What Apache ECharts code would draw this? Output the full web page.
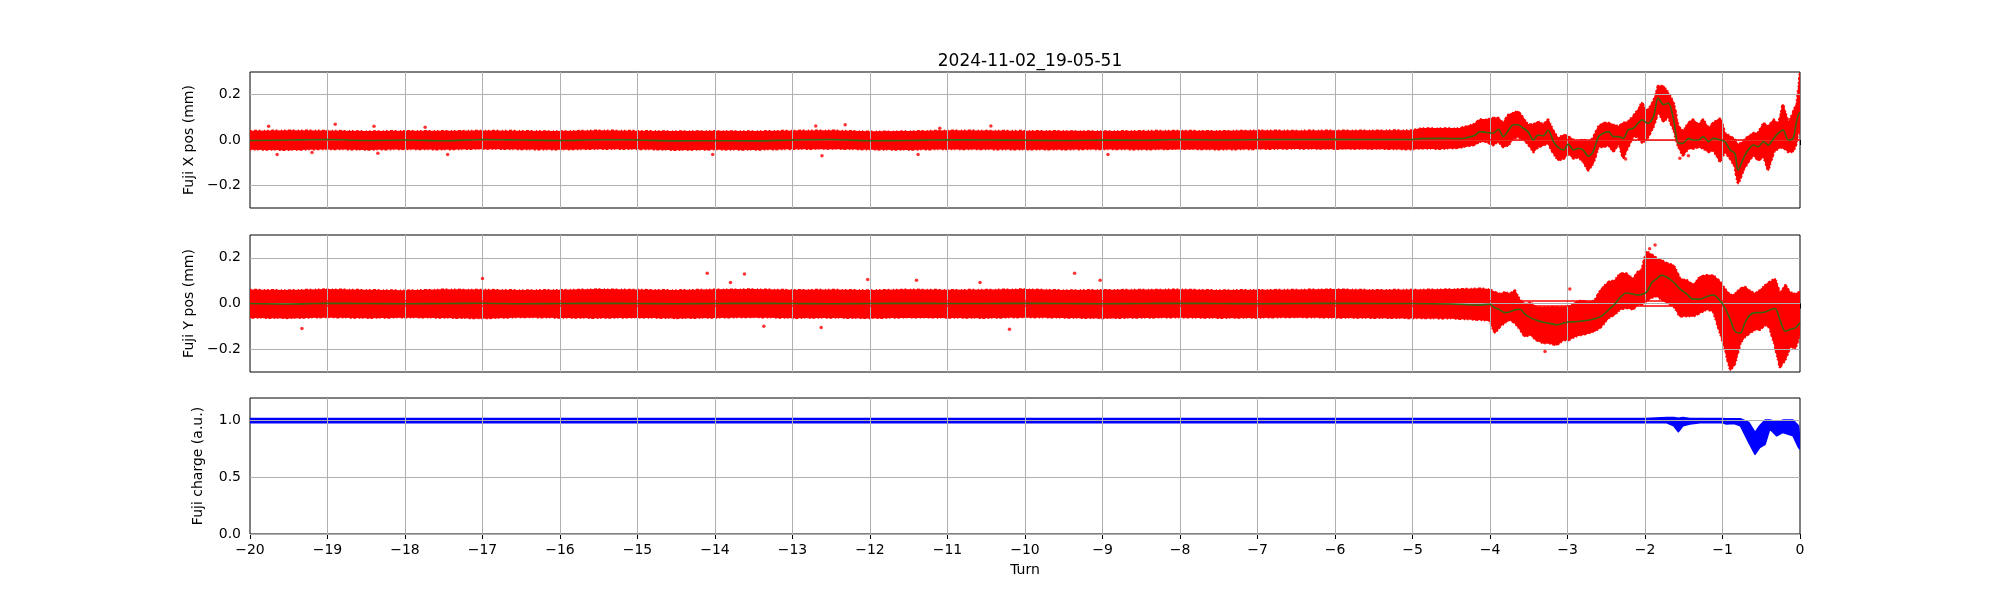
<!DOCTYPE html>
<html>
<head>
<meta charset="utf-8">
<script src="https://cdn.jsdelivr.net/npm/echarts@6/dist/echarts.min.js"></script>
<style>
html,body{margin:0;padding:0;background:#fff;}
#chart{width:2000px;height:600px;}
</style>
</head>
<body>
<div id="chart"></div>
<script>
// ---------- data ----------
const titleText = '2024-11-02_19-05-51';
const turnTicks = [-20,-19,-18,-17,-16,-15,-14,-13,-12,-11,-10,-9,-8,-7,-6,-5,-4,-3,-2,-1,0];
const posTicks = [-0.2, 0.0, 0.2];
const chargeTicks = [0.0, 0.5, 1.0];

// Fuji X position: envelope of the red point cloud and green running mean
const xTurn = [-20,-19.5,-19,-18.5,-18,-17.5,-17,-16.5,-16,-15.5,-15,-14.5,-14,-13.5,-13,-12.5,-12,-11.5,-11,-10.5,-10,-9.5,-9,-8.5,-8,-7.5,-7,-6.5,-6,-5.5,-5,-4.9,-4.65,-4.39,-4.2,
  -4.13,-4.04,-3.96,-3.89,-3.83,-3.76,-3.70,-3.64,-3.57,-3.51,-3.44,-3.38,-3.31,-3.25,-3.18,-3.12,-3.05,-2.99,-2.92,-2.86,-2.80,-2.73,-2.67,-2.60,-2.54,-2.47,-2.41,-2.34,-2.28,-2.22,-2.15,-2.09,
  -2.04,-2.00,-1.96,-1.89,-1.83,-1.76,-1.70,-1.63,-1.57,-1.51,-1.44,-1.38,-1.31,-1.25,-1.18,-1.12,-1.03,-0.97,-0.90,-0.84,-0.80,-0.73,-0.67,-0.60,-0.54,-0.47,-0.41,-0.34,-0.28,-0.22,-0.15,-0.09,-0.04,-0.01,0];
const xHi = [0.038,0.040,0.039,0.036,0.038,0.037,0.039,0.038,0.036,0.040,0.038,0.036,0.037,0.036,0.039,0.040,0.035,0.036,0.040,0.039,0.038,0.037,0.036,0.038,0.039,0.037,0.040,0.039,0.040,0.040,0.041,0.050,0.050,0.050,0.070,
  0.089,0.089,0.096,0.096,0.074,0.111,0.119,0.126,0.096,0.067,0.067,0.081,0.067,0.089,0.037,0.007,0.022,0.015,0.000,-0.007,0.000,-0.007,0.007,0.059,0.074,0.074,0.067,0.059,0.074,0.081,0.104,0.133,
  0.165,0.133,0.133,0.170,0.237,0.237,0.207,0.163,0.059,0.037,0.074,0.089,0.067,0.089,0.052,0.074,0.096,0.030,0.015,0.000,-0.022,-0.007,0.015,0.030,0.030,0.074,0.059,0.089,0.067,0.156,0.074,0.119,0.163,0.252,0.290];
const xLo = [-0.040,-0.042,-0.038,-0.041,-0.038,-0.040,-0.036,-0.039,-0.040,-0.037,-0.038,-0.042,-0.040,-0.041,-0.038,-0.036,-0.040,-0.041,-0.038,-0.039,-0.040,-0.040,-0.038,-0.040,-0.037,-0.040,-0.038,-0.036,-0.037,-0.036,-0.040,-0.035,-0.038,-0.033,-0.020,
  -0.007,-0.007,-0.022,-0.007,-0.030,-0.022,0.007,0.015,0.000,-0.015,-0.052,-0.030,-0.022,-0.015,-0.059,-0.089,-0.081,-0.059,-0.081,-0.074,-0.096,-0.133,-0.104,-0.030,-0.030,-0.022,-0.052,-0.015,-0.081,-0.030,0.015,0.015,
  -0.010,-0.007,0.015,0.059,0.126,0.081,0.104,0.044,-0.030,-0.067,-0.037,-0.037,-0.030,-0.037,-0.052,-0.044,-0.096,-0.052,-0.081,-0.119,-0.193,-0.133,-0.096,-0.067,-0.089,-0.074,-0.133,-0.052,-0.037,-0.030,-0.052,-0.052,-0.007,0.089,0.030];
const xMid = [-0.002,0.000,0.002,-0.002,0.000,-0.003,0.002,0.000,-0.002,0.001,0.000,-0.004,-0.003,-0.004,0.000,0.002,-0.003,-0.002,0.001,0.000,-0.001,-0.002,0.000,-0.001,0.002,0.000,0.002,0.002,0.003,0.002,0.002,0.006,0.007,0.006,0.020,
  0.037,0.033,0.030,0.047,0.015,0.044,0.067,0.067,0.052,0.037,0.000,0.022,0.018,0.044,-0.007,-0.033,-0.044,-0.018,-0.044,-0.037,-0.044,-0.071,-0.052,0.015,0.030,0.037,0.015,0.015,0.007,0.044,0.052,0.074,
  0.089,0.080,0.074,0.104,0.185,0.156,0.163,0.089,-0.015,-0.015,0.007,0.000,0.000,0.015,-0.007,0.007,0.000,-0.007,-0.044,-0.059,-0.133,-0.081,-0.044,-0.022,-0.030,-0.007,-0.022,0.007,0.030,0.044,0.000,0.007,0.089,0.119,0.120];
const xOutTurn = [-19.76,-19.65,-19.2,-18.9,-18.4,-18.35,-17.74,-17.45,-14.03,-12.7,-12.62,-12.32,-11.38,-11.1,-10.44,-8.93,-2.25,-1.55,-1.44];
const xOutVal  = [0.061,-0.064,-0.055,0.070,0.061,-0.059,0.056,-0.064,-0.064,0.062,-0.070,0.067,-0.064,0.052,0.062,-0.064,-0.084,-0.081,-0.070];
const xRefLines = [0.0];

// Fuji Y position
const yTurn = [-20,-19.5,-19,-18.5,-18,-17.5,-17,-16.5,-16,-15.5,-15,-14.5,-14,-13.5,-13,-12.5,-12,-11.5,-11,-10.5,-10,-9.5,-9,-8.5,-8,-7.5,-7,-6.5,-6,-5.5,-5,-4.5,
  -4.13,-4.00,-3.94,-3.87,-3.81,-3.74,-3.68,-3.61,-3.55,-3.48,-3.40,-3.31,-3.23,-3.14,-3.05,-2.99,-2.90,-2.82,-2.73,-2.65,-2.56,-2.47,-2.39,-2.32,-2.24,-2.15,-2.09,
  -2.04,-1.98,-1.91,-1.85,-1.79,-1.72,-1.63,-1.55,-1.46,-1.38,-1.29,-1.20,-1.12,-1.03,-0.97,-0.90,-0.84,-0.77,-0.71,-0.65,-0.58,-0.52,-0.45,-0.39,-0.32,-0.26,-0.19,-0.13,-0.06,0];
const yHi = [0.058,0.056,0.060,0.057,0.055,0.059,0.058,0.056,0.057,0.060,0.058,0.056,0.059,0.060,0.057,0.058,0.056,0.059,0.057,0.058,0.060,0.056,0.057,0.058,0.059,0.056,0.057,0.058,0.060,0.057,0.058,0.060,
  0.064,0.060,0.049,0.041,0.049,0.041,0.056,0.012,-0.003,0.004,-0.018,-0.018,-0.018,-0.018,-0.018,-0.018,0.004,0.012,0.004,0.012,0.064,0.093,0.101,0.130,0.130,0.107,0.138,
  0.150,0.227,0.212,0.197,0.190,0.175,0.167,0.108,0.101,0.079,0.116,0.123,0.123,0.093,0.064,0.034,0.041,0.064,0.071,0.056,0.041,0.056,0.079,0.093,0.108,0.041,0.079,0.049,0.041,0.049];
const yLo = [-0.060,-0.062,-0.058,-0.061,-0.059,-0.060,-0.063,-0.058,-0.060,-0.061,-0.059,-0.062,-0.060,-0.058,-0.061,-0.060,-0.062,-0.059,-0.060,-0.061,-0.058,-0.060,-0.062,-0.060,-0.059,-0.061,-0.060,-0.058,-0.060,-0.061,-0.062,-0.064,
  -0.070,-0.075,-0.129,-0.099,-0.084,-0.070,-0.084,-0.114,-0.144,-0.136,-0.159,-0.173,-0.173,-0.181,-0.159,-0.159,-0.144,-0.136,-0.129,-0.121,-0.099,-0.062,-0.047,-0.025,-0.018,-0.025,-0.003,
  -0.003,0.012,0.027,0.034,0.019,0.004,-0.010,-0.055,-0.055,-0.055,-0.040,-0.025,-0.033,-0.129,-0.196,-0.292,-0.262,-0.173,-0.144,-0.129,-0.114,-0.114,-0.092,-0.107,-0.188,-0.277,-0.247,-0.188,-0.196,-0.129];
const yMid = [0.000,-0.002,0.001,0.000,-0.001,0.000,0.001,-0.001,0.000,0.001,0.000,-0.001,0.000,0.001,0.000,-0.001,0.000,0.001,0.000,0.000,0.001,0.000,-0.001,0.000,0.001,0.000,-0.001,0.000,0.001,0.000,0.000,-0.002,
  -0.007,-0.003,-0.018,-0.028,-0.040,-0.036,-0.028,-0.025,-0.047,-0.062,-0.073,-0.082,-0.087,-0.093,-0.086,-0.081,-0.080,-0.077,-0.073,-0.067,-0.055,-0.028,-0.003,0.027,0.046,0.041,0.037,
  0.040,0.049,0.093,0.108,0.123,0.116,0.093,0.064,0.041,0.019,0.019,0.031,0.037,0.012,-0.018,-0.070,-0.121,-0.129,-0.084,-0.052,-0.040,-0.040,-0.037,-0.028,-0.022,-0.070,-0.121,-0.114,-0.107,-0.084];
const yOutTurn = [-19.33,-17.0,-14.1,-13.8,-13.62,-13.37,-12.63,-12.03,-11.4,-10.58,-10.2,-9.36,-9.03,-3.29,-2.97,-1.87,-1.94];
const yOutVal  = [-0.110,0.110,0.133,0.092,0.129,-0.100,-0.105,0.105,0.102,0.092,-0.113,0.133,0.102,-0.210,0.064,0.256,0.240];
const yRefLines = [0.005, -0.005];

// Fuji charge
const qTurn = [-20,-18,-16,-14,-12,-10,-8,-6,-4,-2,-1.72,-1.63,-1.57,-1.51,-1.42,-1.29,-1.0,-0.95,-0.85,-0.77,-0.66,-0.58,-0.52,-0.45,-0.39,-0.30,-0.22,-0.09,-0.02,0];
const qHi  = [1.020,1.020,1.020,1.020,1.020,1.020,1.020,1.020,1.020,1.020,1.028,1.028,1.022,1.028,1.020,1.020,1.020,1.018,1.018,1.018,0.985,0.896,0.955,1.005,1.005,0.990,1.005,1.005,0.955,0.837];
const qLo  = [0.982,0.982,0.982,0.982,0.982,0.982,0.982,0.982,0.982,0.982,0.982,0.955,0.902,0.955,0.970,0.982,0.982,0.970,0.975,0.955,0.807,0.703,0.763,0.792,0.926,0.866,0.896,0.866,0.763,0.748];

// ---------- chart ----------
const FONT = 'DejaVu Sans';
const GRID_GRAY = '#b0b0b0';
const fmtNum = (d) => (v) => { const s = Math.abs(v).toFixed(d); return (v < -1e-9 ? '\u2212' : '') + s; };
const innerTurns = turnTicks.filter(v => v > turnTicks[0] && v < turnTicks[turnTicks.length - 1]);

function bandSeries(gi, turns, hi, lo, color, fuzzy) {
  return {
    type: 'custom', xAxisIndex: gi, yAxisIndex: gi, z: 2, clip: true, silent: true,
    data: turns.map((t, i) => [t, lo[i], hi[i]]),
    encode: { x: 0, y: [1, 2] },
    renderItem: function (params, api) {
      if (params.dataIndex !== 0) return null;
      const up = turns.map((t, i) => api.coord([t, hi[i]]));
      const dn = turns.map((t, i) => api.coord([t, lo[i]])).reverse();
      const pts = up.concat(dn);
      const children = [
        { type: 'polygon', shape: { points: pts }, style: { fill: color, stroke: color, lineWidth: 1.5, lineJoin: 'round' } }
      ];
      if (fuzzy) {
        children.push({ type: 'polygon', shape: { points: pts },
          style: { fill: null, stroke: color, lineWidth: 3, lineDash: [1.5, 2.5, 3, 1.5, 2, 3.5, 1, 2], lineJoin: 'round' } });
      }
      return { type: 'group', children: children };
    }
  };
}
// outlier points; also carries the grid lines (drawn over the point cloud like matplotlib)
function outlierSeries(gi, turns, vals, color, yTicks) {
  return { type: 'scatter', xAxisIndex: gi, yAxisIndex: gi, z: 3, silent: true,
    symbolSize: 3.5, itemStyle: { color: color },
    data: turns.map((t, i) => [t, vals[i]]),
    markLine: { silent: true, symbol: 'none', z: 3, animation: false, label: { show: false },
      lineStyle: { color: GRID_GRAY, type: 'solid', width: 1 },
      data: innerTurns.map(v => ({ xAxis: v })).concat(yTicks.map(v => ({ yAxis: v }))) } };
}
function midSeries(gi, turns, mid, refs) {
  return { type: 'line', xAxisIndex: gi, yAxisIndex: gi, z: 6, silent: true,
    showSymbol: false, symbol: 'none', smooth: 0.3,
    lineStyle: { color: '#3a6612', width: 1.6 },
    data: turns.map((t, i) => [t, mid[i]]),
    markLine: { silent: true, symbol: 'none', z: 5, label: { show: false },
      lineStyle: { color: '#ff0000', type: 'solid', width: 1.5 },
      data: refs.map(v => ({ yAxis: v })) } };
}

const grids = [
  { left: 250, width: 1550, top: 72, height: 136 },
  { left: 250, width: 1550, top: 235, height: 137 },
  { left: 250, width: 1550, top: 398, height: 136 }
].map(g => Object.assign(g, { show: true, borderColor: '#000', borderWidth: 1, backgroundColor: 'transparent' }));

const xAxes = [0, 1, 2].map(i => ({
  type: 'value', gridIndex: i, min: -20, max: 0, interval: 1,
  axisLine: { show: false },
  axisTick: { show: true, inside: false, length: 5, lineStyle: { color: '#000', width: 1 } },
  axisLabel: { show: i === 2, margin: 9, color: '#000', fontSize: 14, fontFamily: FONT, formatter: fmtNum(0) },
  splitLine: { show: false },
  name: i === 2 ? 'Turn' : '', nameLocation: 'middle', nameGap: 29,
  nameTextStyle: { color: '#000', fontSize: 14, fontFamily: FONT }
}));

const yNames = ['Fuji X pos (mm)', 'Fuji Y pos (mm)', 'Fuji charge (a.u.)'];
const yAxes = [0, 1, 2].map(i => {
  const ticks = i === 2 ? chargeTicks : posTicks;
  return {
    type: 'value', gridIndex: i,
    min: i === 2 ? 0 : -0.3, max: i === 2 ? 1.2 : 0.3,
    axisLine: { show: false },
    axisTick: { show: true, inside: false, length: 5, customValues: ticks, lineStyle: { color: '#000', width: 1 } },
    axisLabel: { show: true, customValues: ticks, margin: 9, color: '#000', fontSize: 14, fontFamily: FONT, formatter: fmtNum(1) },
    splitLine: { show: false },
    name: yNames[i], nameLocation: 'middle', nameGap: 45,
    nameTextStyle: { color: '#000', fontSize: 14, fontFamily: FONT }
  };
});

const option = {
  animation: false,
  backgroundColor: '#fff',
  title: { text: titleText, left: 1025, top: 48, textAlign: 'center',
    textStyle: { color: '#000', fontSize: 17, fontWeight: 'normal', fontFamily: FONT } },
  grid: grids, xAxis: xAxes, yAxis: yAxes,
  series: [
    bandSeries(0, xTurn, xHi, xLo, '#ff0000', true),
    outlierSeries(0, xOutTurn, xOutVal, '#ff0000', posTicks),
    midSeries(0, xTurn, xMid, xRefLines),
    bandSeries(1, yTurn, yHi, yLo, '#ff0000', true),
    outlierSeries(1, yOutTurn, yOutVal, '#ff0000', posTicks),
    midSeries(1, yTurn, yMid, yRefLines),
    bandSeries(2, qTurn, qHi, qLo, '#0000ff', false),
    outlierSeries(2, [], [], '#0000ff', chargeTicks)
  ]
};
const chart = echarts.init(document.getElementById('chart'), null, { renderer: 'canvas' });
chart.setOption(option);
</script>
</body>
</html>
